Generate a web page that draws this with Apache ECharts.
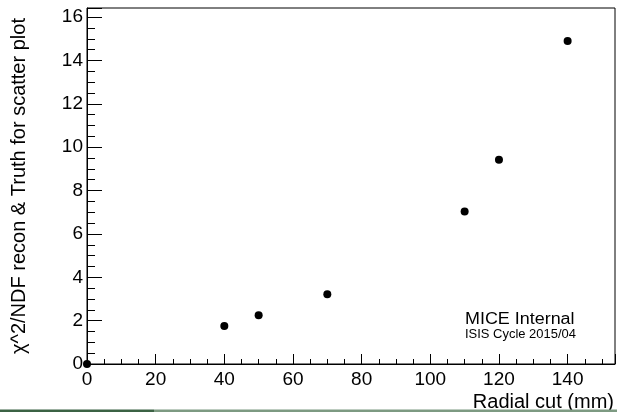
<!DOCTYPE html>
<html>
<head>
<meta charset="utf-8">
<script src="https://cdn.jsdelivr.net/npm/echarts@6/dist/echarts.min.js"></script>
<style>html,body{margin:0;padding:0;background:#fff}#c{width:617px;height:412px}</style>
</head>
<body>
<div id="c"></div>
<script>
var radialCut = [0, 40, 50, 70, 110, 120, 140];
var chi2ndf = [0, 1.75, 2.25, 3.22, 7.03, 9.42, 14.9];
var xTitle = 'Radial cut (mm)';
var yTitle = 'χ^2/NDF recon & Truth for scatter plot';
var noteMain = 'MICE Internal';
var noteSub = 'ISIS Cycle 2015/04';

var points = radialCut.map(function (x, i) { return [x, chi2ndf[i]]; });
var font = 'Liberation Sans, Arial, Helvetica, sans-serif';
var chart = echarts.init(document.getElementById('c'), null, {renderer: 'canvas'});
chart.setOption({
  animation: false,
  backgroundColor: '#fff',
  grid: {left: 87, right: 2, top: 8, bottom: 45, show: true, borderColor: '#000', borderWidth: 1, backgroundColor: 'transparent'},
  xAxis: {
    type: 'value', min: 0, max: 153.8, interval: 20,
    axisLine: {show: true, onZero: false, lineStyle: {color: '#000', width: 1}},
    axisTick: {show: true, inside: true, length: 10, lineStyle: {color: '#000'}},
    minorTick: {show: true, splitNumber: 4, length: 5, lineStyle: {color: '#000'}},
    splitLine: {show: false},
    axisLabel: {color: '#000', fontSize: 19, fontFamily: font, margin: 6, showMaxLabel: false},
    name: xTitle, nameLocation: 'end', nameGap: -1,
    nameTextStyle: {color: '#000', fontSize: 20, fontFamily: font, align: 'right', verticalAlign: 'top', padding: [28, 0, 0, 0]}
  },
  yAxis: {
    type: 'value', min: 0, max: 16.42, interval: 2,
    axisLine: {show: true, onZero: false, lineStyle: {color: '#000', width: 1}},
    axisTick: {show: true, inside: true, length: 15, lineStyle: {color: '#000'}},
    minorTick: {show: true, splitNumber: 4, length: 8, lineStyle: {color: '#000'}},
    splitLine: {show: false},
    axisLabel: {color: '#000', fontSize: 19, fontFamily: font, margin: 4, showMaxLabel: false},
    name: yTitle, nameLocation: 'middle', nameGap: 58, nameRotate: 90,
    nameTextStyle: {color: '#000', fontSize: 20, fontFamily: font}
  },
  series: [{
    type: 'scatter', data: points, symbol: 'circle', symbolSize: 8,
    itemStyle: {color: '#000', opacity: 1}, emphasis: {disabled: true}, clip: false
  }],
  graphic: [
    {type: 'text', x: 465, y: 312, scaleX: 1.12, style: {text: noteMain, fill: '#000', font: '16px ' + font}},
    {type: 'text', x: 465, y: 329, scaleX: 1.08, style: {text: noteSub, fill: '#000', font: '12px ' + font}},
    {type: 'rect', z: 100, shape: {x: 0, y: 409.5, width: 154, height: 3}, style: {fill: '#3b6244'}},
    {type: 'rect', z: 100, shape: {x: 154, y: 409.5, width: 463, height: 3}, style: {fill: '#7d9a82'}}
  ]
});
</script>
</body>
</html>
